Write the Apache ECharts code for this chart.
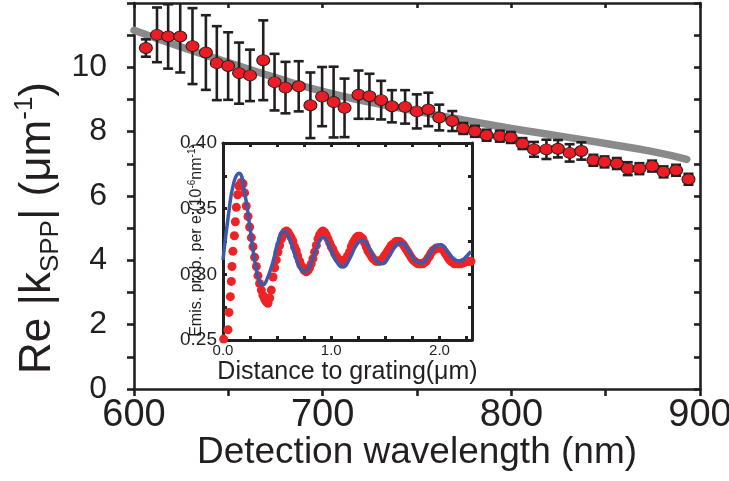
<!DOCTYPE html>
<html>
<head>
<meta charset="utf-8">
<script src="https://cdn.jsdelivr.net/npm/echarts@6/dist/echarts.min.js"></script>
<style>
html,body{margin:0;padding:0;background:#fff;}
#chart{width:729px;height:481px;}
</style>
</head>
<body>
<div id="chart"></div>
<script>
// ---------- main plot data ----------
const wavelengths = [606.3, 612.2, 618.1, 624.5, 631.0, 638.1, 643.9, 649.9, 655.7, 661.5, 668.5, 674.5, 680.3, 687.3, 693.5, 699.7, 705.8, 711.6, 719.0, 724.8, 731.0, 736.7, 743.7, 749.9, 756.0, 761.8, 768.7, 774.5, 780.7, 786.9, 793.9, 799.7, 805.9, 812.0, 818.6, 824.7, 830.9, 837.1, 843.5, 849.4, 855.9, 861.7, 867.9, 874.6, 880.7, 887.3, 893.9];
const kValues = [10.60, 11.01, 10.96, 10.96, 10.66, 10.46, 10.13, 10.04, 9.82, 9.75, 10.22, 9.54, 9.37, 9.41, 8.82, 9.09, 8.92, 8.74, 9.15, 9.10, 8.98, 8.79, 8.77, 8.63, 8.69, 8.44, 8.33, 8.10, 8.01, 7.89, 7.86, 7.82, 7.63, 7.45, 7.45, 7.47, 7.34, 7.40, 7.11, 7.06, 7.01, 6.85, 6.85, 6.93, 6.75, 6.80, 6.52];
const kErrors = [0.27, 0.85, 1.0, 1.12, 1.18, 1.16, 1.15, 1.05, 0.95, 0.80, 1.24, 0.88, 0.80, 0.78, 1.02, 0.92, 1.10, 0.91, 0.75, 0.70, 0.60, 0.50, 0.52, 0.53, 0.52, 0.40, 0.31, 0.17, 0.17, 0.17, 0.17, 0.17, 0.17, 0.23, 0.30, 0.27, 0.27, 0.27, 0.17, 0.17, 0.17, 0.20, 0.17, 0.17, 0.17, 0.17, 0.17];
const theoryX = [600, 625, 650, 675, 700, 725, 750, 775, 800, 825, 850, 875, 893];
const theoryY = [11.15, 10.63, 10.15, 9.68, 9.25, 8.92, 8.63, 8.36, 8.10, 7.87, 7.63, 7.38, 7.14];
const mainXLabels = [600, 700, 800, 900];
const mainYLabels = [0, 2, 4, 6, 8, 10];

// ---------- inset data ----------
const insetDotX = [0.006, 0.046, 0.055, 0.068, 0.077, 0.083, 0.092, 0.105, 0.114, 0.123, 0.135, 0.148,
  0.154, 0.169, 0.185, 0.200, 0.215, 0.231, 0.246, 0.262, 0.277, 0.292, 0.308, 0.323, 0.338, 0.354, 0.369, 0.385, 0.400, 0.415, 0.431, 0.446, 0.462, 0.477, 0.492, 0.508, 0.523,
  0.54, 0.554, 0.57, 0.585, 0.60, 0.615, 0.63, 0.646, 0.66, 0.677, 0.69, 0.708, 0.72, 0.738, 0.75, 0.769, 0.785, 0.800, 0.815, 0.831, 0.846, 0.862, 0.877, 0.892, 0.908, 0.923, 0.938, 0.954, 0.97, 0.985,
  1.00, 1.015, 1.03, 1.046, 1.06, 1.077, 1.09, 1.108, 1.12, 1.138, 1.15, 1.169, 1.185, 1.200, 1.215, 1.231, 1.246, 1.262, 1.277, 1.292, 1.308, 1.323, 1.338, 1.354, 1.37, 1.385, 1.40, 1.415, 1.43, 1.446, 1.46, 1.477, 1.49,
  1.508, 1.523, 1.538, 1.554, 1.569, 1.585, 1.600, 1.615, 1.631, 1.646, 1.662, 1.677, 1.692, 1.708, 1.723, 1.738, 1.754, 1.77, 1.785, 1.80, 1.815, 1.83, 1.846, 1.86, 1.877, 1.89, 1.908, 1.92, 1.938, 1.954, 1.969, 1.985,
  2.000, 2.015, 2.031, 2.046, 2.062, 2.077, 2.092, 2.108, 2.123, 2.138, 2.154, 2.17, 2.185, 2.20, 2.215, 2.23, 2.246, 2.26, 2.277, 2.29];
const insetDotY = [0.2507, 0.2578, 0.271, 0.283, 0.2946, 0.306, 0.3175, 0.3294, 0.340, 0.351, 0.3606, 0.367,
  0.368, 0.370, 0.369, 0.362, 0.352, 0.344, 0.336, 0.328, 0.321, 0.313, 0.306, 0.299, 0.293, 0.288, 0.284, 0.281, 0.279, 0.278, 0.282, 0.288, 0.298, 0.305, 0.311, 0.317, 0.322,
  0.327, 0.330, 0.332, 0.333, 0.332, 0.330, 0.328, 0.325, 0.321, 0.318, 0.314, 0.310, 0.307, 0.305, 0.303, 0.302, 0.303, 0.305, 0.308, 0.312, 0.317, 0.322, 0.327, 0.330, 0.332, 0.333, 0.332, 0.330, 0.327, 0.324,
  0.321, 0.319, 0.316, 0.314, 0.312, 0.311, 0.310, 0.310, 0.311, 0.312, 0.314, 0.317, 0.321, 0.324, 0.326, 0.328, 0.329, 0.329, 0.328, 0.327, 0.324, 0.321, 0.318, 0.316, 0.314, 0.312, 0.311, 0.310, 0.310, 0.310, 0.311, 0.312, 0.314,
  0.316, 0.318, 0.320, 0.322, 0.323, 0.324, 0.325, 0.325, 0.325, 0.324, 0.323, 0.321, 0.319, 0.317, 0.315, 0.313, 0.311, 0.310, 0.309, 0.308, 0.308, 0.308, 0.308, 0.309, 0.310, 0.312, 0.314, 0.316, 0.318, 0.319, 0.320, 0.320,
  0.320, 0.320, 0.319, 0.317, 0.315, 0.313, 0.311, 0.310, 0.309, 0.308, 0.308, 0.308, 0.308, 0.308, 0.309, 0.309, 0.310, 0.310, 0.310, 0.310];
const insetFitX = [0.00, 0.05, 0.10, 0.148, 0.20, 0.25, 0.30, 0.34, 0.37, 0.40, 0.46, 0.51, 0.56, 0.61, 0.66, 0.71, 0.754, 0.80, 0.86, 0.923, 0.98, 1.04, 1.108, 1.17, 1.23, 1.286, 1.35, 1.41, 1.47, 1.53, 1.59, 1.646, 1.71, 1.77, 1.83, 1.89, 1.95, 2.01, 2.07, 2.13, 2.19, 2.24, 2.29];
const insetFitY = [0.311, 0.345, 0.370, 0.377, 0.362, 0.335, 0.307, 0.294, 0.292, 0.295, 0.309, 0.325, 0.333, 0.328, 0.316, 0.305, 0.302, 0.306, 0.319, 0.328, 0.322, 0.311, 0.3055, 0.312, 0.322, 0.326, 0.320, 0.311, 0.308, 0.313, 0.321, 0.324, 0.319, 0.311, 0.3086, 0.313, 0.320, 0.3225, 0.318, 0.312, 0.310, 0.313, 0.3175];
const insetXLabels = ['0.0', '1.0', '2.0'];
const insetYLabels = ['0.25', '0.30', '0.35', '0.40'];

// ---------- chart ----------
const FONT = "'Liberation Sans', Arial, Helvetica, sans-serif";
const INK = '#231f20';
const chart = echarts.init(document.getElementById('chart'), null, {renderer: 'canvas'});

function zip(a, b) { return a.map((v, i) => [v, b[i]]); }

function mainAxis(extra) {
  return Object.assign({
    type: 'value',
    splitLine: {show: false},
    nameMoveOverlap: false,
    axisLine: {show: true, onZero: false, lineStyle: {color: INK, width: 2.6}},
    axisTick: {show: true, inside: false, length: 7, lineStyle: {color: INK, width: 2.6}},
    axisLabel: {show: false}
  }, extra);
}
function insetAxis(extra) {
  return Object.assign({
    type: 'value',
    gridIndex: 1,
    zlevel: 1,
    splitLine: {show: false},
    nameMoveOverlap: false,
    axisLine: {show: true, onZero: false, lineStyle: {color: INK, width: 3}},
    axisTick: {show: true, inside: true, length: 4, lineStyle: {color: INK, width: 3}},
    axisLabel: {show: false}
  }, extra);
}

function renderErr(params, api) {
  const x = api.value(0), y = api.value(1), e = api.value(2);
  const t = api.coord([x, y + e]);
  const b = api.coord([x, y - e]);
  const cw = 5;
  const st = {stroke: INK, lineWidth: 2.6};
  return {
    type: 'group',
    children: [
      {type: 'line', shape: {x1: t[0], y1: t[1], x2: b[0], y2: b[1]}, style: st},
      {type: 'line', shape: {x1: t[0] - cw, y1: t[1], x2: t[0] + cw, y2: t[1]}, style: st},
      {type: 'line', shape: {x1: b[0] - cw, y1: b[1], x2: b[0] + cw, y2: b[1]}, style: st}
    ]
  };
}

const option = {
  animation: false,
  backgroundColor: '#fff',
  grid: [
    {left: 134, top: 3, width: 566, height: 386, containLabel: false, outerBoundsMode: 'none'},
    {left: 223, top: 143, width: 249, height: 197, containLabel: false, outerBoundsMode: 'none',
     show: true, backgroundColor: '#fff', borderWidth: 0, zlevel: 1}
  ],
  xAxis: [
    mainAxis({gridIndex: 0, min: 600, max: 900, interval: 50, position: 'bottom',
      axisLabel: {show: true, margin: 8, fontSize: 38, color: INK, fontFamily: FONT,
        formatter: v => mainXLabels.includes(v) ? String(v) : ''},
      name: 'Detection wavelength (nm)', nameLocation: 'middle', nameGap: 45,
      nameTextStyle: {fontSize: 37, color: INK, fontFamily: FONT}}),
    mainAxis({gridIndex: 0, min: 600, max: 900, interval: 50, position: 'top',
      axisTick: {show: true, inside: true, length: 5, lineStyle: {color: INK, width: 2.6}}}),
    insetAxis({min: 0, max: 2.3, interval: 0.25, position: 'bottom',
      axisLabel: {show: true, margin: 3, fontSize: 15, color: INK, fontFamily: FONT,
        formatter: v => { const s = v.toFixed(1); return insetXLabels.includes(s) ? s : ''; }},
      name: 'Distance to grating(μm)', nameLocation: 'middle', nameGap: 20,
      nameTextStyle: {fontSize: 25, color: INK, fontFamily: FONT}}),
    insetAxis({min: 0, max: 2.3, interval: 0.25, position: 'top'})
  ],
  yAxis: [
    mainAxis({gridIndex: 0, min: 0, max: 12, interval: 1, position: 'left',
      axisLabel: {show: true, margin: 27, fontSize: 32, color: INK, fontFamily: FONT,
        formatter: v => mainYLabels.includes(v) ? String(v) : ''}}),
    mainAxis({gridIndex: 0, min: 0, max: 12, interval: 1, position: 'right',
      axisTick: {show: true, inside: true, length: 6, lineStyle: {color: INK, width: 2.6}}}),
    insetAxis({min: 0.25, max: 0.40, interval: 0.025, position: 'left',
      axisLabel: {show: true, margin: 6, fontSize: 19, color: INK, fontFamily: FONT,
        formatter: v => { const s = v.toFixed(2); return insetYLabels.includes(s) ? s : ''; }}}),
    insetAxis({min: 0.25, max: 0.40, interval: 0.025, position: 'right'})
  ],
  graphic: [
    {
      type: 'text', x: 38, y: 228, rotation: Math.PI / 2,
      style: {
        text: '{a|Re |k}{s|SPP}{a|| (μm}{p|-1}{a|)}',
        align: 'center', verticalAlign: 'middle',
        rich: {
          a: {fontSize: 44, fontFamily: FONT, fill: INK, lineHeight: 52, verticalAlign: 'middle'},
          s: {fontSize: 26, fontFamily: FONT, fill: INK, lineHeight: 26, verticalAlign: 'bottom'},
          p: {fontSize: 26, fontFamily: FONT, fill: INK, lineHeight: 26, verticalAlign: 'top'}
        }
      }
    },
    {
      type: 'text', x: 197, y: 240, rotation: Math.PI / 2, zlevel: 1,
      style: {
        text: '{a|Emis. prob. per e}{p|-}{a|(10}{p|-6}{a|nm}{p|-1}{a|)}',
        align: 'center', verticalAlign: 'middle',
        rich: {
          a: {fontSize: 16, fontFamily: FONT, fill: INK, lineHeight: 20, verticalAlign: 'middle'},
          p: {fontSize: 10, fontFamily: FONT, fill: INK, lineHeight: 10, verticalAlign: 'top'}
        }
      }
    }
  ],
  series: [
    {
      type: 'line', xAxisIndex: 0, yAxisIndex: 0, z: 1,
      data: zip(theoryX, theoryY), smooth: true, symbol: 'none', showSymbol: false,
      lineStyle: {color: '#8a8a8a', width: 7.5, cap: 'round'}
    },
    {
      type: 'custom', xAxisIndex: 0, yAxisIndex: 0, z: 2, clip: true,
      data: wavelengths.map((w, i) => [w, kValues[i], kErrors[i]]),
      encode: {x: 0, y: 1},
      renderItem: renderErr
    },
    {
      type: 'scatter', xAxisIndex: 0, yAxisIndex: 0, z: 3,
      data: zip(wavelengths, kValues), symbol: 'circle', symbolSize: [13, 11],
      itemStyle: {color: '#ec1c24', borderColor: INK, borderWidth: 1, opacity: 1}
    },
    {
      type: 'scatter', xAxisIndex: 2, yAxisIndex: 2, zlevel: 1, z: 3,
      data: zip(insetDotX, insetDotY), symbol: 'circle', symbolSize: 9,
      itemStyle: {color: '#ee2326', opacity: 1}
    },
    {
      type: 'line', xAxisIndex: 2, yAxisIndex: 2, zlevel: 1, z: 4,
      data: zip(insetFitX, insetFitY), smooth: true, symbol: 'none', showSymbol: false,
      lineStyle: {color: '#3a5aad', width: 3.5}
    }
  ]
};
chart.setOption(option);
</script>
</body>
</html>
